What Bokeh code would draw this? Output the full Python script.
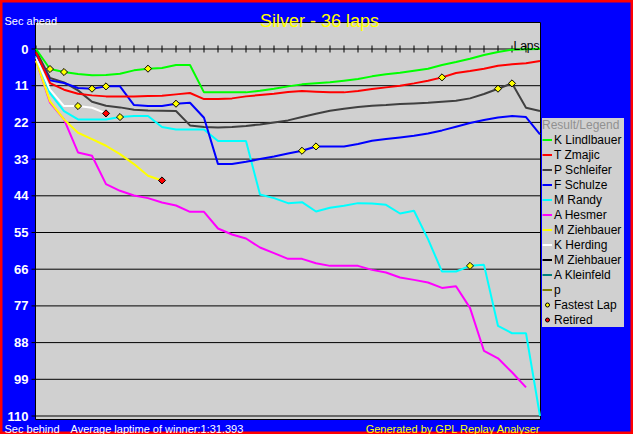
from bokeh.plotting import figure
from bokeh.models import (Range1d, Label, LabelSet, ColumnDataSource, Legend, LegendItem)
from bokeh.core.properties import value
from bokeh.embed import file_html
from bokeh.resources import INLINE
import math

NaN = float("nan")

# ---------------- data ----------------
laps = list(range(37))

drivers = ["K Lindlbauer", "T Zmajic", "P Schleifer", "F Schulze", "M Randy", "A Hesmer",
           "M Ziehbauer", "K Herding", "M Ziehbauer", "A Kleinfeld", "p"]
colors = ["#00FF00", "#FF0000", "#404040", "#0000FF", "#00FFFF", "#FF00FF",
          "#FFFF00", "#FFFFFF", "#000000", "#008080", "#808000"]

k_lindlbauer = [0.0, 6.0, 6.9, 7.5, 7.9, 7.8, 7.4, 6.4, 5.9, 5.7, 4.8, 4.8, 13.0, 13.0, 13.0,
                13.0, 12.5, 11.9, 11.2, 10.6, 10.3, 10.0, 9.5, 9.0, 8.2, 7.6, 7.1, 6.5, 5.9,
                4.8, 3.9, 2.9, 1.8, 0.9, 0.2, 0.1, 0.0]
t_zmajic = [1.0, 10.2, 12.2, 13.4, 13.9, 14.2, 14.2, 14.2, 14.1, 14.0, 13.6, 13.2, 15.0, 15.0,
            14.8, 14.2, 13.8, 13.4, 12.9, 12.6, 12.8, 13.0, 13.0, 12.6, 12.0, 11.5, 11.0,
            10.3, 9.5, 8.5, 7.2, 6.6, 5.9, 5.0, 4.6, 4.3, 3.6]
p_schleifer = [0.5, 8.7, 10.0, 12.4, 15.8, 17.0, 17.5, 18.2, 18.4, 18.5, 18.6, 22.9, 23.4,
               23.5, 23.4, 23.1, 22.6, 22.0, 21.4, 20.4, 19.4, 18.5, 17.9, 17.4, 17.0, 16.8,
               16.5, 16.3, 16.1, 15.8, 15.5, 14.8, 13.5, 11.9, 10.3, 17.6, 18.6]
f_schulze = [1.5, 9.4, 10.2, 11.7, 11.9, 11.2, 11.2, 16.8, 17.1, 17.1, 16.4, 16.1, 20.6, 34.5,
             34.5, 33.8, 33.0, 32.2, 31.3, 30.5, 29.2, 29.2, 29.2, 28.5, 27.5, 27.0, 26.5,
             26.0, 25.3, 24.4, 23.3, 22.2, 21.3, 20.5, 20.1, 20.4, 25.6]
m_randy = [2.0, 13.2, 18.6, 21.1, 21.1, 21.1, 20.4, 20.1, 20.1, 23.4, 24.1, 24.1, 24.1, 27.6,
           27.6, 27.6, 43.6, 44.7, 46.2, 45.9, 48.7, 47.6, 47.0, 46.2, 46.3, 46.7, 49.3, 48.5,
           57.0, 66.7, 66.7, 65.0, 64.7, 83.0, 85.2, 85.2, 110.0]
a_hesmer = [3.5, 16.1, 21.1, 31.0, 32.0, 40.5, 42.5, 43.9, 44.7, 46.0, 46.9, 48.8, 48.8, 53.8,
            55.6, 56.8, 59.5, 61.2, 62.9, 62.9, 64.2, 65.0, 65.0, 65.0, 66.2, 67.0, 68.5, 69.2,
            70.0, 71.6, 71.1, 77.6, 90.5, 92.7, 96.9, 101.4]
m_ziehbauer = [3.5, 15.7, 21.1, 25.1, 27.0, 29.0, 31.5, 34.5, 38.0, 39.4]
k_herding = [2.5, 12.2, 17.1, 17.1, 17.6, 19.3]
m_ziehbauer2 = [NaN]   # no data shown, legend only
a_kleinfeld = [NaN]
p_driver = [NaN]

series = [k_lindlbauer, t_zmajic, p_schleifer, f_schulze, m_randy, a_hesmer,
          m_ziehbauer, k_herding, m_ziehbauer2, a_kleinfeld, p_driver]

# fastest lap markers: (series index, lap)
fastest_series = [0, 0, 7, 3, 3, 4, 0, 3, 3, 3, 1, 4, 2, 2]
fastest_laps = [1, 2, 3, 4, 5, 6, 8, 10, 19, 20, 29, 31, 33, 34]
# retired markers
retired_series = [7, 6]
retired_laps = [5, 9]

ytick_values = [0, 11, 22, 33, 44, 55, 66, 77, 88, 99, 110]
ytick_labels = ["0", "11", "22", "33", "44", "55", "66", "77", "88", "99", "110"]
lap_ticks = list(range(36))

title_text = "Silver - 36 laps"
avg_text = "Average laptime of winner:1:31.393"
gen_text = "Generated by GPL Replay Analyser"

# ---------------- layout (canvas pixels) ----------------
W, H = 633, 434
AREA_L, AREA_R, AREA_T, AREA_B = 35, 540, 22, 419
X0, PX_LAP = 35.5, 14.0            # canvas x of lap 0, px per lap
Y0, PX_SEC = 48.5, 367.0 / 110.0   # canvas y of 0 s, px per second


def lx(px):
    return (px - X0) / PX_LAP


def sy(py):
    return (py - Y0) / PX_SEC


FONT = "Liberation Sans"

p = figure(width=W, height=H, output_backend="svg", toolbar_location=None,
           x_range=Range1d(lx(0), lx(W)), y_range=Range1d(sy(H), sy(0)),
           x_axis_location=None, y_axis_location=None,
           min_border=0, min_border_left=0, min_border_right=0,
           min_border_top=0, min_border_bottom=0,
           background_fill_color="#0000FF", border_fill_color="#0000FF",
           outline_line_color="#FF0000", outline_line_width=4)
p.grid.visible = False

# plot area
p.quad(left=[lx(AREA_L)], right=[lx(AREA_R)], top=[sy(AREA_T)], bottom=[sy(AREA_B)],
       fill_color="#D0D0D0", line_color="black", line_width=1)

# horizontal grid lines
n = len(ytick_values)
p.segment(x0=[lx(AREA_L)] * n, x1=[lx(AREA_R)] * n, y0=ytick_values, y1=ytick_values,
          line_color="black", line_width=1)
# y tick marks outside the area
p.segment(x0=[lx(AREA_L - 4)] * n, x1=[lx(AREA_L)] * n, y0=ytick_values, y1=ytick_values,
          line_color="black", line_width=1)

# lap ticks on the zero line
p.scatter(x=lap_ticks, y=[0] * len(lap_ticks), marker="dash", angle=math.pi / 2,
          size=7, line_color="black", line_width=1)

# series lines
order = [8, 9, 10, 5, 6, 4, 7, 2, 3, 1, 0]
rmap = {}
for i in order:
    vals = series[i]
    rmap[i] = p.line(x=laps[:len(vals)], y=vals, line_color=colors[i], line_width=2)
renderers = [rmap[i] for i in range(len(drivers))]

# markers
fy = [series[s][l] for s, l in zip(fastest_series, fastest_laps)]
p.scatter(x=fastest_laps, y=fy, marker="square", angle=math.pi / 4, size=5,
          fill_color="#FFFF00", line_color="black", line_width=1)
ry = [series[s][l] for s, l in zip(retired_series, retired_laps)]
p.scatter(x=retired_laps, y=ry, marker="square", angle=math.pi / 4, size=5,
          fill_color="#FF0000", line_color="black", line_width=1)

# legend-only renderers (no visible points)
leg_fast = p.scatter(x=[NaN], y=[NaN], marker="circle", size=6, fill_color="#FFFF00",
                     line_color="black", line_width=1)
leg_ret = p.scatter(x=[NaN], y=[NaN], marker="circle", size=6, fill_color="#FF0000",
                    line_color="black", line_width=1)

items = [LegendItem(label=drivers[i], renderers=[renderers[i]]) for i in range(len(drivers))]
items.append(LegendItem(label="Fastest Lap", renderers=[leg_fast]))
items.append(LegendItem(label="Retired", renderers=[leg_ret]))

legend = Legend(items=items, location=(542, H - 327),
                title="Result/Legend", title_text_color="#909090",
                title_text_font_size="12px", title_text_font=FONT,
                title_text_font_style="normal", title_standoff=0,
                label_text_font_size="12px", label_text_font=FONT,
                label_text_color="black", label_height=15, glyph_height=15,
                glyph_width=10, label_standoff=2, label_width=70, spacing=0,
                padding=3, margin=0, border_line_color=None,
                background_fill_color="#D0D0D0", background_fill_alpha=1.0)
p.add_layout(legend)

# y tick labels
ysrc = ColumnDataSource(dict(x=[lx(28)] * n, y=ytick_values, text=ytick_labels))
p.add_layout(LabelSet(source=ysrc, x="x", y="y", text="text", text_align="right",
                      text_baseline="middle", text_color="white",
                      text_font=value(FONT), text_font_style="bold",
                      text_font_size="13px"))

# texts
p.add_layout(Label(x=lx(319), y=sy(20), text=title_text, text_align="center",
                   text_baseline="alphabetic", text_color="#FFFF00",
                   text_font=FONT, text_font_size="18px"))
p.add_layout(Label(x=lx(4), y=sy(20), text="Sec ahead", text_align="left",
                   text_baseline="alphabetic", text_color="white",
                   text_font=FONT, text_font_size="11px"))
BOT = 428
p.add_layout(Label(x=lx(4), y=sy(BOT), text="Sec behind", text_align="left",
                   text_baseline="alphabetic", text_color="white",
                   text_font=FONT, text_font_size="11px"))
p.add_layout(Label(x=lx(70), y=sy(BOT), text=avg_text, text_align="left",
                   text_baseline="alphabetic", text_color="white",
                   text_font=FONT, text_font_size="11px"))
p.add_layout(Label(x=lx(540), y=sy(BOT), text=gen_text, text_align="right",
                   text_baseline="alphabetic", text_color="#FFFF00",
                   text_font=FONT, text_font_size="11px"))
p.add_layout(Label(x=lx(539), y=sy(45.5), text="Laps", text_align="right",
                   text_baseline="alphabetic", text_color="black",
                   text_font=FONT, text_font_size="12px"))

open("out.html", "w").write(file_html(p, INLINE))
